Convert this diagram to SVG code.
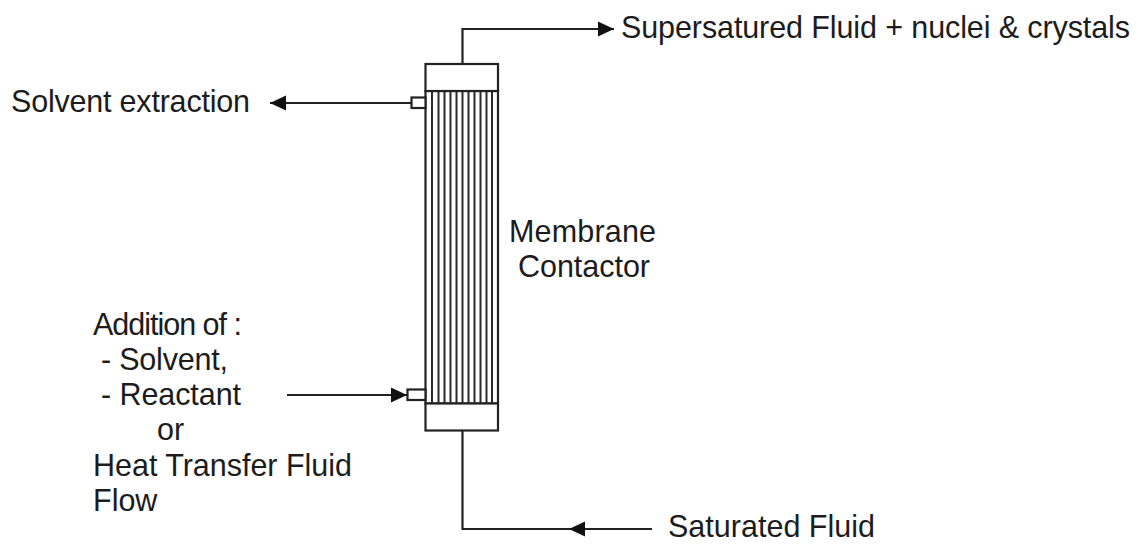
<svg xmlns="http://www.w3.org/2000/svg" width="1141" height="544" viewBox="0 0 1141 544">
<style>
.l{fill:none;stroke:#222;stroke-width:2.200}
.b{fill:#fff;stroke:#222;stroke-width:2.200}
.t{stroke:#2a2a2a;stroke-width:2}
text{font-family:"Liberation Sans",Arial,sans-serif;font-size:30.500px;fill:#1c1c1c}
</style>
<defs>
<marker id="a" markerUnits="userSpaceOnUse" markerWidth="18" markerHeight="18" refX="16" refY="9" orient="auto"><path d="M0 1.500L16 9L0 16.500Z" fill="#111"/></marker>
</defs>
<rect width="1141" height="544" fill="#fff"/>
<g id="connectors">
<path class="l" d="M462.500 64V29H614" marker-end="url(#a)"/>
<path class="l" d="M411 103H270" marker-end="url(#a)"/>
<path class="l" d="M287 395H407" marker-end="url(#a)"/>
<path class="l" d="M462.500 431V529H570"/>
<path class="l" d="M652 529H569" marker-end="url(#a)"/>
</g>
<g id="membrane-contactor">
<rect class="b" x="425.500" y="91" width="72.500" height="312.500"/>
<g class="t">
<path d="M432 91V403M438.500 91V403M444.500 91V403M450.500 91V403M456.500 91V403M462.500 91V403M468.500 91V403M474.500 91V403M480.500 91V403M486.500 91V403M492 91V403"/>
</g>
<rect class="b" x="425.500" y="64" width="72.500" height="27"/>
<rect class="b" x="425.500" y="403.500" width="72.500" height="27"/>
<rect class="b" x="411.500" y="97.500" width="14" height="10.500"/>
<rect class="b" x="407.500" y="389.500" width="18" height="10.500"/>
</g>
<g id="label-top"><text x="621" y="38" textLength="509">Supersatured Fluid + nuclei &amp; crystals</text></g>
<g id="label-solvent"><text x="11" y="112" textLength="239">Solvent extraction</text></g>
<g id="label-membrane"><text x="509" y="242" textLength="147">Membrane</text><text x="518" y="277" textLength="132">Contactor</text></g>
<g id="label-addition">
<text x="93" y="335" textLength="149">Addition of :</text>
<text x="101" y="370" textLength="127">- Solvent,</text>
<text x="101" y="405" textLength="140">- Reactant</text>
<text x="157" y="440">or</text>
<text x="93" y="476" textLength="259">Heat Transfer Fluid</text>
<text x="93" y="511">Flow</text>
</g>
<g id="label-saturated"><text x="668" y="537" textLength="207">Saturated Fluid</text></g>
</svg>
